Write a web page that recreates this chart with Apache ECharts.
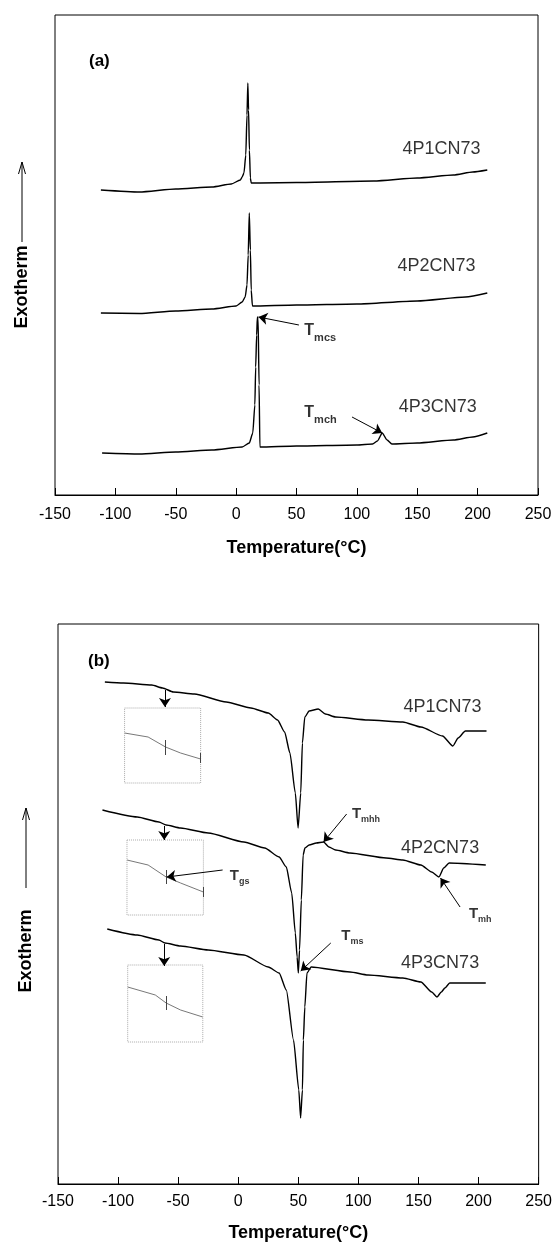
<!DOCTYPE html>
<html>
<head>
<meta charset="utf-8">
<script src="https://cdn.jsdelivr.net/npm/echarts@6/dist/echarts.min.js"></script>
<style>
  html, body { margin: 0; padding: 0; background: #fff; }
  #chart { width: 555px; height: 1243px; }
</style>
</head>
<body>
<div id="chart"></div>
<script>
// DSC traces, temperature in degC, heat flow in arbitrary units (exotherm up)
const xTicks = [-150, -100, -50, 0, 50, 100, 150, 200, 250];

// panel (a) cooling scans
const tempA1 = [-112, -80, -50, -20, -4, 3.5, 5, 6.5, 8, 9, 9.7, 10.3, 11, 11.8, 12.5, 20, 50, 114, 150, 180, 196, 208];
const heatA1 = [30.5, 30.3, 30.6, 30.8, 31.1, 31.5, 31.8, 32.2, 34, 38, 41.2, 38.5, 34.5, 31.7, 31.2, 31.2, 31.25, 31.4, 31.7, 32.0, 32.3, 32.5];
const tempA2 = [-112, -80, -50, -20, 0, 5, 7.5, 9, 10, 10.9, 11.8, 12.5, 13.5, 50, 100, 150, 190, 208];
const heatA2 = [18.2, 18.15, 18.4, 18.6, 18.9, 19.3, 19.8, 21.0, 24.0, 28.2, 24.5, 20.5, 18.9, 19.0, 19.1, 19.4, 19.8, 20.2];
const tempA3 = [-111, -80, -50, -20, 5, 10.9, 13.8, 15.5, 16.2, 17, 17.6, 18.2, 19, 19.7, 50, 100, 113, 117, 121, 125, 129, 150, 180, 196, 208];
const heatA3 = [4.2, 4.1, 4.3, 4.5, 4.8, 5.2, 6.2, 9, 12.8, 16, 17.8, 17.6, 11, 4.8, 4.9, 5.0, 5.1, 5.4, 6.2, 5.5, 5.1, 5.2, 5.5, 5.8, 6.2];

// panel (b) heating scans
const tempB1 = [-111, -95.5, -72, -63, -54, -36.5, -10, 10.6, 25, 32.7, 38.6, 43, 47.5, 49.8, 52, 53.4, 55.4, 59, 66.6, 72.5, 81, 108, 137, 152, 170, 178.6, 183, 189, 206.6];
const heatB1 = [50.2, 50.1, 49.9, 49.6, 49.2, 49.0, 48.2, 47.6, 47.1, 46.4, 45.2, 43.1, 39.1, 35.6, 39.1, 44.1, 46.7, 47.3, 47.5, 47.0, 46.7, 46.4, 46.2, 45.7, 44.8, 43.8, 44.6, 45.3, 45.3];
const tempB2 = [-113, -84, -66, -60, -48, -25, 4.7, 22, 34, 40, 44.5, 47.5, 49, 50, 51, 52.5, 54, 55.5, 59, 65, 71, 75.5, 81, 93, 123, 137, 152, 161, 167, 171, 175.5, 206];
const heatB2 = [37.4, 36.7, 36.2, 35.9, 35.6, 35.1, 34.2, 33.6, 32.7, 31.7, 29.1, 25.1, 22.7, 21.1, 23.4, 28.4, 32.9, 33.6, 33.9, 34.1, 34.2, 33.7, 33.4, 33.1, 32.6, 32.4, 31.9, 31.2, 30.7, 31.6, 32.1, 31.9];
const tempB3 = [-109, -84, -66, -61, -48, -25, 4.7, 25, 34, 40, 46, 50.4, 51.9, 53.4, 54.2, 55.4, 57.2, 60.7, 93, 108, 137, 152, 161, 165.4, 169, 172, 176, 206];
const heatB3 = [25.5, 24.9, 24.4, 24.1, 23.8, 23.4, 22.9, 21.7, 21.1, 19.4, 14.4, 9.4, 6.6, 9.4, 14.4, 17.7, 21.1, 21.7, 21.2, 20.9, 20.6, 20.2, 19.2, 18.7, 19.2, 19.6, 20.1, 20.1];

// Tg insets (magnified glass-transition region)
const insetTemp = [-94.6, -75, -60.5, -48, -31.3];
const insetB1 = [45.1, 44.7, 43.7, 43.1, 42.5];
const insetTemp2 = [-92.6, -75, -60, -48, -29];
const insetB2 = [32.4, 31.9, 30.7, 30.1, 29.2];
const insetTemp3 = [-92, -69, -60, -48, -29.5];
const insetB3 = [19.7, 18.9, 18.1, 17.4, 16.7];
const insetBoxes = [[-94.6, -31.3, 47.6, 40.1], [-92.6, -29, 34.4, 26.9], [-92, -29.5, 21.9, 14.2]];

const sampleNames = ['4P1CN73', '4P2CN73', '4P3CN73'];
const labelPosA = [[170, 34.6], [166, 22.9], [167, 8.8]];
const labelPosB = [[170, 47.7], [168, 33.6], [168, 22.1]];

const FONT = '"Liberation Sans", Arial, sans-serif';

function pair(xs, ys) { return xs.map((x, i) => [x, ys[i]]); }

function curve(name, xs, ys, idx) {
  return {
    name: name, type: 'line', xAxisIndex: idx, yAxisIndex: idx,
    data: pair(xs, ys), showSymbol: false, symbol: 'none',
    smooth: 0.2, smoothMonotone: 'x',
    lineStyle: { color: '#000', width: 1.4 }, silent: true, z: 3
  };
}

function thin(name, xs, ys, idx) {
  return {
    name: name, type: 'line', xAxisIndex: idx, yAxisIndex: idx,
    data: pair(xs, ys), showSymbol: false, symbol: 'none', silent: true,
    lineStyle: { color: '#555', width: 0.8 }
  };
}

function box(b) {
  return [[b[0], b[2]], [b[1], b[2]], [b[1], b[3]], [b[0], b[3]], [b[0], b[2]]];
}

function seg(a, b) { return [{ coord: a }, { coord: b }]; }

const richT = {
  t: { fontFamily: FONT, fontWeight: 'bold', fontSize: 16, color: '#000', verticalAlign: 'top' },
  s: { fontFamily: FONT, fontWeight: 'bold', fontSize: 11, color: '#000', padding: [9, 0, 0, 0], verticalAlign: 'bottom' },
  tb: { fontFamily: FONT, fontWeight: 'bold', fontSize: 15, color: '#000', verticalAlign: 'top' },
  sb: { fontFamily: FONT, fontWeight: 'bold', fontSize: 9, color: '#000', padding: [9, 0, 0, 0], verticalAlign: 'bottom' }
};

function nameLabels(pos, idx) {
  return {
    type: 'scatter', xAxisIndex: idx, yAxisIndex: idx, symbolSize: 0, silent: true,
    data: pos.map((p, i) => ({ value: p, name: sampleNames[i] })),
    label: { show: true, position: 'inside', formatter: '{b}', fontFamily: FONT, fontSize: 18, color: '#000' }
  };
}

function arrowSeries(idx, arrows) {
  return {
    type: 'line', xAxisIndex: idx, yAxisIndex: idx, data: [], silent: true,
    markLine: {
      silent: true, symbol: ['none', 'arrow'], symbolSize: 9,
      itemStyle: { color: '#000' },
      lineStyle: { color: '#000', width: 1, type: 'solid' },
      label: { show: false }, animation: false,
      data: arrows
    }
  };
}

function tLabels(list, idx, big) {
  return {
    type: 'scatter', xAxisIndex: idx, yAxisIndex: idx, symbolSize: 0, silent: true,
    data: list.map(d => ({ value: [d[0], d[1]], name: d[2] })),
    label: {
      show: true, position: 'right', distance: 0,
      formatter: p => big ? '{t|T}{s|' + p.name + '}' : '{tb|T}{sb|' + p.name + '}',
      rich: richT
    }
  };
}

const axisX = (gi, margin, gap) => ({
  type: 'value', gridIndex: gi, min: -150, max: 250, interval: 50,
  axisLine: { lineStyle: { color: '#000', width: 1 } },
  axisTick: { inside: true, length: 7, lineStyle: { color: '#000' } },
  splitLine: { show: false },
  axisLabel: { fontFamily: FONT, fontSize: 16, color: '#000', margin: margin },
  name: 'Temperature(°C)', nameLocation: 'middle', nameGap: gap,
  nameTextStyle: { fontFamily: FONT, fontSize: 18, fontWeight: 'bold', color: '#000' }
});

const axisY = (gi, max) => ({
  type: 'value', gridIndex: gi, min: 0, max: max,
  axisLine: { show: false, onZero: false },
  axisTick: { show: false }, axisLabel: { show: false }, splitLine: { show: false }
});

function exoLabel(cx, cy, a1, a2) {
  return [
    { type: 'text', x: cx, y: cy, rotation: Math.PI / 2,
      style: { text: 'Exotherm', font: 'bold 18px ' + FONT, fill: '#000', align: 'center', verticalAlign: 'middle' } },
    { type: 'line', shape: { x1: cx, y1: a1, x2: cx, y2: a2 }, style: { stroke: '#000', lineWidth: 1 } },
    { type: 'polyline', shape: { points: [[cx - 3.5, a2 + 12], [cx, a2], [cx + 3.5, a2 + 12]] }, style: { stroke: '#000', lineWidth: 1, fill: null } }
  ];
}

const chart = echarts.init(document.getElementById('chart'), null, { renderer: 'canvas' });

const option = {
  backgroundColor: '#fff',
  animation: false,
  grid: [
    { left: 55, right: 17, top: 15, height: 480, show: true, borderColor: '#000', borderWidth: 1, backgroundColor: 'transparent' },
    { left: 58, right: 14, top: 624, height: 560, show: true, borderColor: '#000', borderWidth: 1, backgroundColor: 'transparent' }
  ],
  xAxis: [axisX(0, 12, 44), axisX(1, 10, 40)],
  yAxis: [axisY(0, 48), axisY(1, 56)],
  graphic: [
    { type: 'text', left: 89, top: 53, style: { text: '(a)', font: 'bold 17px ' + FONT, fill: '#000' } },
    { type: 'text', left: 88, top: 653, style: { text: '(b)', font: 'bold 17px ' + FONT, fill: '#000' } }
  ].concat(exoLabel(22, 287, 242, 162), exoLabel(26, 951, 888, 808)),
  series: [
    curve('4P1CN73 a', tempA1, heatA1, 0),
    curve('4P2CN73 a', tempA2, heatA2, 0),
    curve('4P3CN73 a', tempA3, heatA3, 0),
    nameLabels(labelPosA, 0),
    tLabels([[56.5, 16.2, 'mcs'], [56.5, 8.0, 'mch']], 0, true),
    arrowSeries(0, [
      seg([52, 17.0], [18.5, 17.8]),
      seg([96, 7.8], [121, 6.2])
    ]),

    curve('4P1CN73 b', tempB1, heatB1, 1),
    curve('4P2CN73 b', tempB2, heatB2, 1),
    curve('4P3CN73 b', tempB3, heatB3, 1),
    nameLabels(labelPosB, 1),
    thin('inset1', insetTemp, insetB1, 1),
    thin('inset2', insetTemp2, insetB2, 1),
    thin('inset3', insetTemp3, insetB3, 1),
    {
      type: 'line', xAxisIndex: 1, yAxisIndex: 1, data: box(insetBoxes[0]), showSymbol: false, symbol: 'none', silent: true,
      lineStyle: { color: '#aaa', width: 1, type: 'dotted' },
      markLine: {
        silent: true, symbol: 'none', lineStyle: { color: '#444', width: 1, type: 'solid' }, label: { show: false },
        data: [
          seg([-60.5, 44.4], [-60.5, 42.9]), seg([-31.3, 43.1], [-31.3, 42.1]),
          seg([-60, 31.4], [-60, 30.0]), seg([-29, 29.7], [-29, 28.7]),
          seg([-60, 18.8], [-60, 17.4])
        ]
      }
    },
    { type: 'line', xAxisIndex: 1, yAxisIndex: 1, data: box(insetBoxes[1]), showSymbol: false, symbol: 'none', silent: true,
      lineStyle: { color: '#aaa', width: 1, type: 'dotted' } },
    { type: 'line', xAxisIndex: 1, yAxisIndex: 1, data: box(insetBoxes[2]), showSymbol: false, symbol: 'none', silent: true,
      lineStyle: { color: '#aaa', width: 1, type: 'dotted' } },
    tLabels([[94.6, 36.9, 'mhh'], [-7, 30.7, 'gs'], [192, 26.9, 'mh'], [85.8, 24.7, 'ms']], 1, false),
    arrowSeries(1, [
      seg([90.2, 37.0], [71, 34.2]),
      seg([-13, 31.4], [-59.5, 30.7]),
      seg([184.6, 27.7], [168.3, 30.6]),
      seg([77, 24.1], [52, 21.3]),
      seg([-61, 49.4], [-61, 47.7]),
      seg([-61.6, 35.8], [-61.6, 34.4]),
      seg([-61.6, 24.0], [-61.6, 21.8])
    ])
  ]
};

chart.setOption(option);
</script>
</body>
</html>
